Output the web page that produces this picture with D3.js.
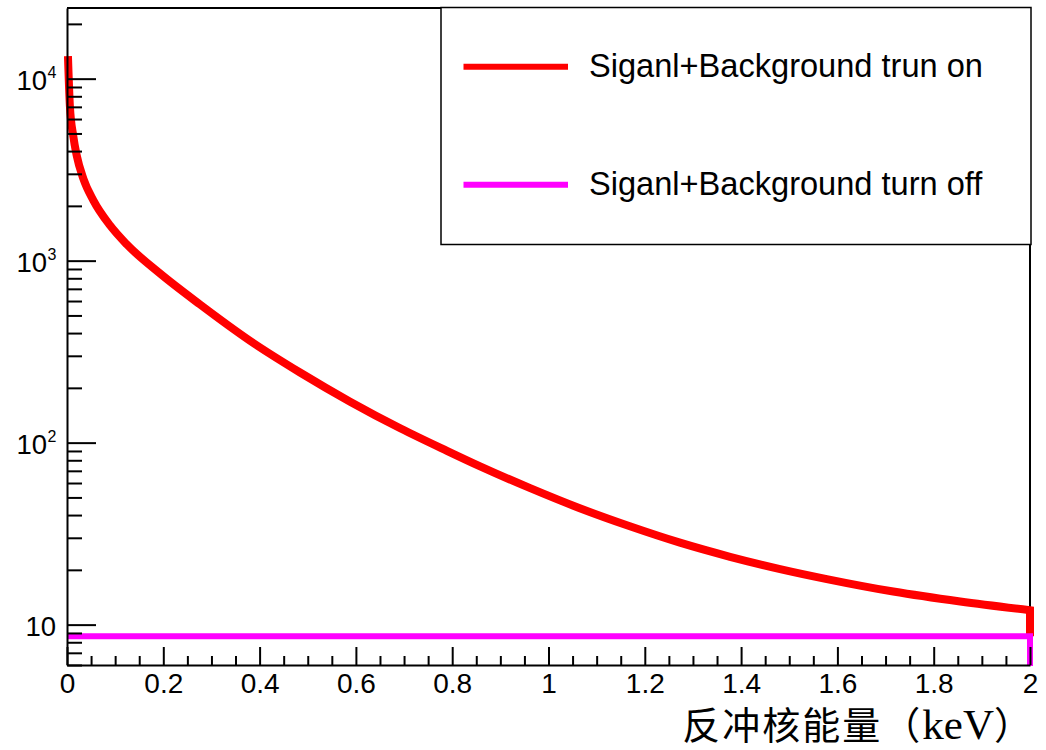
<!DOCTYPE html>
<html>
<head>
<meta charset="utf-8">
<script src="https://cdn.jsdelivr.net/npm/d3@7"></script>
<style>
  body { margin: 0; background: #fff; }
  svg { display: block; }
  .tick text { font-family: "Liberation Sans", Arial, sans-serif; }
</style>
</head>
<body>
<div id="chart"></div>
<script>
const width = 1046;
const height = 750;

// recoil energy (keV) and counts
const energy = [0.002, 0.006, 0.013, 0.020, 0.034, 0.055, 0.089, 0.124, 0.193, 0.276,
  0.380, 0.484, 0.588, 0.692, 0.789, 0.858, 0.962, 1.065, 1.169, 1.273,
  1.377, 1.481, 1.578, 1.716, 1.855, 2.000];
const countsOn = [13300, 7063, 4842, 3802, 2818, 2138, 1567, 1230, 851, 575,
  363, 243, 168, 120, 90.2, 74.1, 56.2, 43.6, 34.7, 28.2,
  23.6, 20.2, 17.8, 15.2, 13.4, 12.0];
// the "turn off" level is flat
const offRange = [0, 2];
const offLevel = 8.63;

const xMajor = [0, 0.2, 0.4, 0.6, 0.8, 1, 1.2, 1.4, 1.6, 1.8, 2];
const xLabels = ['0', '0.2', '0.4', '0.6', '0.8', '1', '1.2', '1.4', '1.6', '1.8', '2'];
const yMajor = [10, 100, 1000, 10000];
const yExp = ['', '2', '3', '4'];
const legendLabels = ['Siganl+Background trun on', 'Siganl+Background turn off'];
const legendColors = ['#ff0000', '#ff00ff'];
const xTitleCn = '反冲核能量（';
const xTitleUnit = 'keV';
const xTitleEnd = '）';

const frame = {left: 67, right: 1030, top: 8, bottom: 665};

const x = d3.scaleLinear()
  .domain([0, 2])
  .range([frame.left, frame.right]);

const y = d3.scaleLog()
  .domain([6, 24450])
  .range([frame.bottom, frame.top]);

const svg = d3.select('#chart').append('svg')
  .attr('width', width)
  .attr('height', height);

// top / right frame lines
svg.append('path')
  .attr('d', `M${frame.left},${frame.top}H${frame.right}V${frame.bottom}`)
  .attr('fill', 'none')
  .attr('stroke', '#000')
  .attr('stroke-width', 2);

// curves
const onData = energy.map((e, i) => ({x: e, y: countsOn[i]}));

const line = d3.line()
  .curve(d3.curveMonotoneX)
  .x(d => x(d.x))
  .y(d => y(d.y));

svg.append('path')
  .attr('d', line(onData) + 'V' + y(offLevel))
  .attr('fill', 'none')
  .attr('stroke', legendColors[0])
  .attr('stroke-width', 8);

svg.append('path')
  .attr('d', line(offRange.map(e => ({x: e, y: offLevel}))) + 'V' + (frame.bottom + 1))
  .attr('fill', 'none')
  .attr('stroke', legendColors[1])
  .attr('stroke-width', 6);

// x axis
const xMinor = d3.range(0, 2.0001, 0.05).filter(v => Math.abs(v * 5 - Math.round(v * 5)) > 1e-6);

svg.append('g')
  .attr('transform', `translate(0,${frame.bottom})`)
  .call(d3.axisBottom(x).tickValues(xMinor).tickSize(-9).tickFormat(''))
  .call(g => g.select('.domain').remove())
  .selectAll('line').attr('stroke-width', 2);

const xAxis = svg.append('g')
  .attr('transform', `translate(0,${frame.bottom})`)
  .call(d3.axisBottom(x)
    .tickValues(xMajor)
    .tickSize(-18)
    .tickSizeOuter(0)
    .tickPadding(8)
    .tickFormat((d, i) => xLabels[i]));

xAxis.select('.domain').attr('stroke-width', 2);
xAxis.selectAll('line').attr('stroke-width', 2);
xAxis.selectAll('text')
  .attr('font-size', 28)
  .attr('fill', '#000');

// y axis
const yMinor = [];
[1, 10, 100, 1000, 10000].forEach(p => {
  d3.range(2, 10).forEach(m => {
    const v = m * p;
    if (v >= 6 && v <= 24450) yMinor.push(v);
  });
});

svg.append('g')
  .attr('transform', `translate(${frame.left},0)`)
  .call(d3.axisLeft(y).tickValues(yMinor).tickSize(-15).tickFormat(''))
  .call(g => g.select('.domain').remove())
  .selectAll('line').attr('stroke-width', 2);

const yAxis = svg.append('g')
  .attr('transform', `translate(${frame.left},0)`)
  .call(d3.axisLeft(y)
    .tickValues(yMajor)
    .tickSize(-29)
    .tickSizeOuter(0)
    .tickFormat(''));

yAxis.select('.domain').attr('stroke-width', 2);
yAxis.selectAll('line').attr('stroke-width', 2);

svg.append('g')
  .selectAll('text')
  .data(yMajor)
  .enter()
  .append('text')
  .attr('x', (d, i) => yExp[i] ? 47 : 56)
  .attr('y', d => y(d) + 11.7)
  .attr('text-anchor', 'end')
  .attr('font-family', '"Liberation Sans", Arial, sans-serif')
  .attr('font-size', 27.5)
  .attr('fill', '#000')
  .text('10');

svg.append('g')
  .selectAll('text')
  .data(yMajor.filter((d, i) => yExp[i]))
  .enter()
  .append('text')
  .attr('x', 47.5)
  .attr('y', d => y(d) - 0.5)
  .attr('font-family', '"Liberation Sans", Arial, sans-serif')
  .attr('font-size', 16)
  .attr('fill', '#000')
  .text(d => yExp[yMajor.indexOf(d)]);

// x axis title
const title = svg.append('text')
  .attr('x', 1032)
  .attr('y', 739)
  .attr('text-anchor', 'end')
  .attr('font-family', '"Liberation Serif", "Noto Sans CJK SC", serif')
  .attr('font-size', 38)
  .attr('fill', '#000');

title.append('tspan').attr('letter-spacing', 2).text(xTitleCn);
title.append('tspan').attr('font-size', 43).text(xTitleUnit);
title.append('tspan').text(xTitleEnd);

// legend
const legend = svg.append('g');

legend.append('rect')
  .attr('x', 441)
  .attr('y', 7.5)
  .attr('width', 590)
  .attr('height', 237)
  .attr('fill', '#fff')
  .attr('stroke', '#000')
  .attr('stroke-width', 1.5);

const entry = legend.selectAll('.entry')
  .data(legendLabels)
  .enter()
  .append('g')
  .attr('class', 'entry')
  .attr('transform', (d, i) => `translate(0,${i === 0 ? 66.7 : 184.7})`);

entry.append('line')
  .attr('x1', 463.5)
  .attr('x2', 568)
  .attr('stroke', (d, i) => legendColors[i])
  .attr('stroke-width', 6);

entry.append('text')
  .attr('x', 589)
  .attr('y', 10.5)
  .attr('font-family', '"Liberation Sans", Arial, sans-serif')
  .attr('font-size', 32.6)
  .attr('fill', '#000')
  .text(d => d);
</script>
</body>
</html>
